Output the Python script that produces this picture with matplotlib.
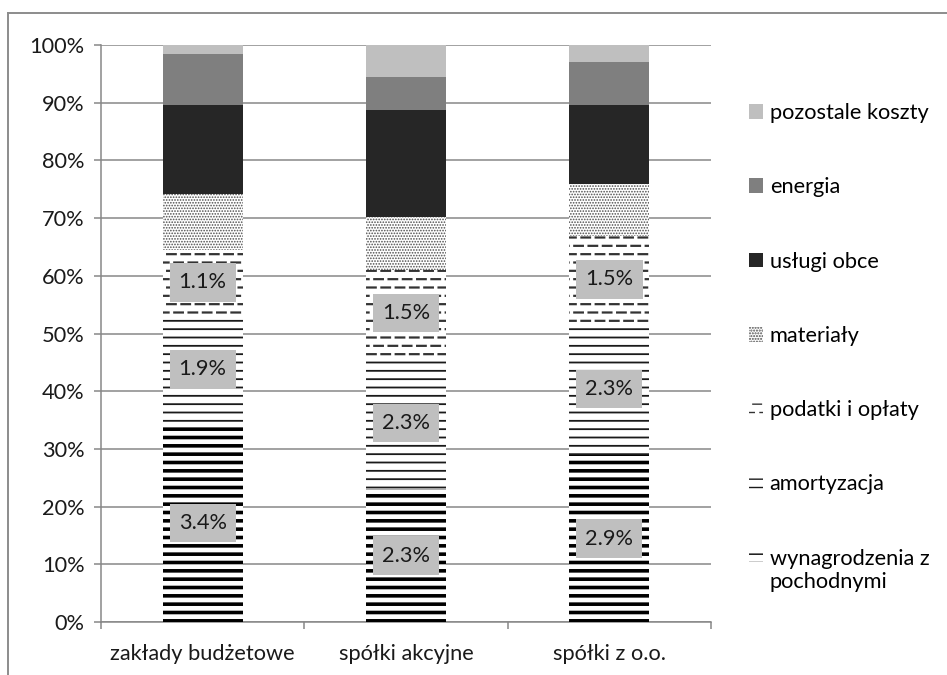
import warnings
import numpy as np
import matplotlib
matplotlib.use("Agg")
import matplotlib.pyplot as plt
from matplotlib import hatch as mhatch
from matplotlib.path import Path
from matplotlib.lines import Line2D
from matplotlib.patches import Rectangle
from matplotlib.legend_handler import HandlerPatch

warnings.filterwarnings("ignore")

# ---- data -------------------------------------------------------------
categories = ["zakłady budżetowe", "spółki akcyjne", "spółki z o.o."]
series_names = ["wynagrodzenia z\npochodnymi", "amortyzacja", "podatki i opłaty",
                "materiały", "usługi obce", "energia", "pozostale koszty"]
wynagrodzenia = [3.4, 2.3, 2.9]
amortyzacja = [1.9, 2.3, 2.3]
podatki = [1.1, 1.5, 1.5]
materialy = [0.98, 0.92, 0.90]
uslugi = [1.53, 1.85, 1.37]
energia = [0.87, 0.58, 0.76]
pozostale = [0.16, 0.55, 0.29]
labelled_series = ["wynagrodzenia z\npochodnymi", "amortyzacja", "podatki i opłaty"]
y_ticks = [0, 10, 20, 30, 40, 50, 60, 70, 80, 90, 100]


# ---- dashed-row hatch ('d') ---------------------------------------------
class DashedRows(mhatch.HatchPatternBase):
    def __init__(self, hatch, density):
        rows = int(hatch.count('d') * density)
        segs = []
        if rows:
            n = 7
            half = 0.6 / n / 2
            for r in range(rows):
                y = (r + 0.5) / rows
                off = 0.0 if r % 2 == 0 else 0.5
                for k in range(-1, n + 1):
                    c = (k + 0.5 + off) / n
                    a, b = max(c - half, 0.0), min(c + half, 1.0)
                    if b > a:
                        segs.append((a, b, y))
        self.segs = segs
        self.num_vertices = 2 * len(segs)

    def set_vertices_and_codes(self, vertices, codes):
        for i, (a, b, y) in enumerate(self.segs):
            vertices[2 * i] = (a, y)
            vertices[2 * i + 1] = (b, y)
            codes[2 * i] = Path.MOVETO
            codes[2 * i + 1] = Path.LINETO


mhatch._hatch_types.append(DashedRows)

plt.rcParams['font.family'] = ['Lato', 'DejaVu Sans']
FS = 15.7

# face colour, hatch colour, hatch pattern, hatch linewidth
styles = {
    "wynagrodzenia z\npochodnymi": ("white", "black", "--", 2.6),
    "amortyzacja": ("white", "#1a1a1a", "--", 1.3),
    "podatki i opłaty": ("white", "#333333", "dd", 1.6),
    "materiały": ("white", "#4d4d4d", "......", 0.8),
    "usługi obce": ("#262626", "#262626", None, 0.0),
    "energia": ("#7f7f7f", "#7f7f7f", None, 0.0),
    "pozostale koszty": ("#bfbfbf", "#bfbfbf", None, 0.0),
}

raw = np.array([wynagrodzenia, amortyzacja, podatki, materialy,
                uslugi, energia, pozostale], dtype=float)
shares = raw / raw.sum(axis=0) * 100.0

W, H = 947, 675
fig = plt.figure(figsize=(W / 100, H / 100), dpi=100)
ax = fig.add_axes([101 / W, 1 - 622 / H, 610 / W, 577 / H])

x = np.arange(len(categories))
bottom = np.zeros(len(categories))
containers = []
for name, raw_vals, pct in zip(series_names, raw, shares):
    face, hcol, hatch, hlw = styles[name]
    with plt.rc_context({'hatch.linewidth': hlw if hlw else 1.0}):
        bars = ax.bar(x, pct, bottom=bottom, width=0.393, color=face,
                      edgecolor=hcol, linewidth=0, hatch=hatch, label=name,
                      zorder=3)
    for p in bars:
        if hasattr(p, "set_hatch_linewidth") and hlw:
            p.set_hatch_linewidth(hlw)
    containers.append(bars)
    if name in labelled_series:
        ax.bar_label(bars, labels=[f"{v:.1f}%" for v in raw_vals],
                     label_type='center', fontsize=FS, color='#1a1a1a',
                     bbox=dict(boxstyle='square,pad=0.42', fc='#bfbfbf', ec='none'),
                     zorder=5)
    bottom += pct

grid_c = '#878787'
ax.set_xlim(-0.5, 2.5)
ax.set_ylim(0, 100)
ax.set_yticks(y_ticks)
ax.set_yticklabels([f"{t}%" for t in y_ticks])
ax.yaxis.grid(True, color=grid_c, linewidth=1.1, zorder=0)
ax.set_axisbelow(True)
ax.set_xticks(x)
ax.set_xticklabels(categories)
ax.set_xticks([-0.5, 0.5, 1.5, 2.5], minor=True)
ax.tick_params(axis='x', which='major', length=0, pad=16, labelsize=FS, colors='#1a1a1a')
ax.tick_params(axis='x', which='minor', length=5, width=1.1, color=grid_c, direction='out')
ax.tick_params(axis='y', length=5, width=1.1, color=grid_c, pad=7, labelsize=FS,
               labelcolor='#1a1a1a')
for s in ('top', 'right'):
    ax.spines[s].set_visible(False)
for s in ('left', 'bottom'):
    ax.spines[s].set_color(grid_c)
    ax.spines[s].set_linewidth(1.1)

# outer chart frame
fig.add_artist(Line2D([8 / W, 8 / W], [0, 1 - 13 / H], transform=fig.transFigure,
                      color='#8c8c8c', linewidth=1.4))
fig.add_artist(Line2D([8 / W, 1], [1 - 13 / H, 1 - 13 / H], transform=fig.transFigure,
                      color='#8c8c8c', linewidth=1.4))


def raised_patch(legend, orig_handle, xdescent, ydescent, width, height, fontsize):
    return Rectangle((-xdescent, -ydescent + 0.75 * fontsize), width, height)


handles = [c.patches[0] for c in containers][::-1]
labels = series_names[::-1]
hmap = {containers[0].patches[0]: HandlerPatch(patch_func=raised_patch)}
fig.legend(handles, labels, loc='upper left', bbox_to_anchor=(749 / W, 1 - 103 / H),
           frameon=False, fontsize=FS, handlelength=0.65, handleheight=0.65,
           handletextpad=0.3, labelspacing=2.49, borderpad=0, borderaxespad=0,
           handler_map=hmap)

fig.savefig("out.png", dpi=100)
